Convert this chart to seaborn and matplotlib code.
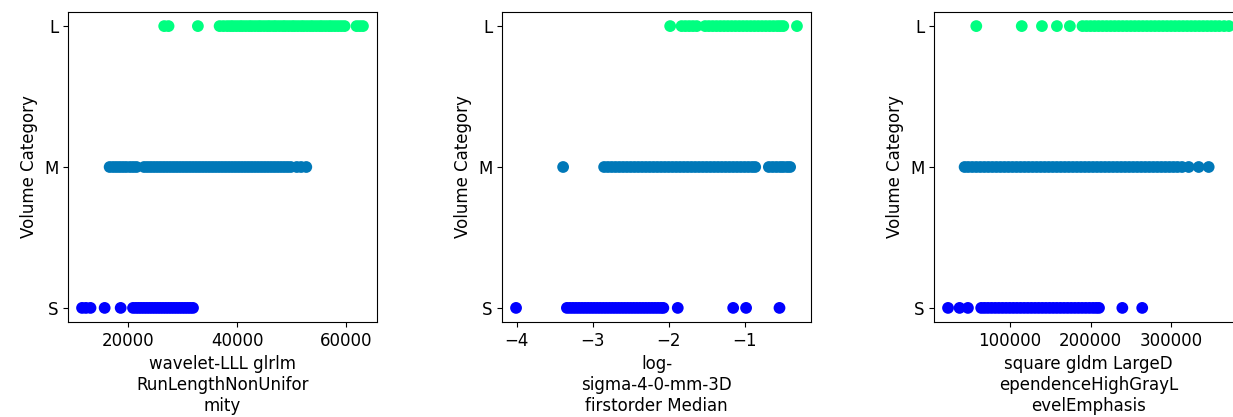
import matplotlib
matplotlib.use("Agg")
import matplotlib.pyplot as plt
import seaborn as sns
import pandas as pd

# ---------------- data ----------------
categories = ["S", "M", "L"]
y_label = "Volume Category"
x_labels = [
    "wavelet-LLL glrlm\nRunLengthNonUnifor\nmity",
    "log-\nsigma-4-0-mm-3D\nfirstorder Median",
    "square gldm LargeD\nependenceHighGrayL\nevelEmphasis",
]
x_ticks = [
    [20000, 40000, 60000],
    [-4, -3, -2, -1],
    [100000, 200000, 300000],
]

# panel 1: wavelet-LLL glrlm RunLengthNonUniformity
p1_S = [11480, 12200, 13040, 15640, 18590, 20860, 21400, 21900, 22400, 22900,
        23400, 23900, 24400, 24900, 25400, 25900, 26400, 26900, 27400, 27900,
        28400, 28900, 29400, 29900, 30400, 30900, 31400, 31900]
p1_M = [16560, 17200, 17800, 18400, 19000, 19600, 20300, 20900, 21500, 22900,
        23500, 24100, 24700, 25300, 25900, 26500, 27100, 27700, 28300, 28900,
        29500, 30100, 30700, 31300, 31900, 32500, 33100, 33700, 34300, 34900,
        35500, 36100, 36700, 37300, 37900, 38500, 39100, 39700, 40300, 40900,
        41500, 42100, 42700, 43300, 43900, 44500, 45100, 45700, 46300, 46900,
        47500, 48100, 48700, 49300, 49900, 51000, 51800, 52750]
p1_L = [26600, 27400, 32800, 36800, 37500, 38200, 38800, 39300, 39900, 40500,
        41000, 41600, 42200, 42700, 43300, 43900, 44400, 45000, 45600, 46100,
        46700, 47200, 47800, 48400, 48900, 49500, 50100, 50600, 51200, 51800,
        52300, 52900, 53500, 54000, 54600, 55200, 55700, 56300, 56900, 57400,
        58000, 58600, 59200, 59800, 62000, 62600, 63180]

# panel 2: log-sigma-4-0-mm-3D firstorder Median
p2_S = [-4.01, -3.34, -3.30, -3.26, -3.22, -3.18, -3.14, -3.10, -3.06, -3.02,
        -2.98, -2.94, -2.90, -2.86, -2.82, -2.78, -2.74, -2.70, -2.66, -2.62,
        -2.58, -2.54, -2.50, -2.46, -2.42, -2.38, -2.34, -2.30, -2.26, -2.22,
        -2.18, -2.14, -2.10, -2.07, -1.88, -1.15, -0.98, -0.54]
p2_M = [-3.39, -2.85, -2.80, -2.75, -2.70, -2.65, -2.60, -2.55, -2.50, -2.45,
        -2.40, -2.35, -2.30, -2.25, -2.20, -2.15, -2.10, -2.05, -2.00, -1.95,
        -1.90, -1.85, -1.80, -1.75, -1.70, -1.65, -1.60, -1.55, -1.50, -1.45,
        -1.40, -1.35, -1.30, -1.25, -1.20, -1.15, -1.10, -1.05, -1.00, -0.95,
        -0.90, -0.86, -0.68, -0.63, -0.58, -0.53, -0.49, -0.44, -0.40]
p2_L = [-1.98, -1.83, -1.78, -1.73, -1.68, -1.63, -1.52, -1.47, -1.42, -1.37,
        -1.32, -1.27, -1.22, -1.17, -1.12, -1.07, -1.02, -0.97, -0.92, -0.87,
        -0.82, -0.77, -0.72, -0.67, -0.62, -0.57, -0.53, -0.49, -0.31]

# panel 3: square gldm LargeDependenceHighGrayLevelEmphasis
p3_S = [22900, 37200, 47600, 64100, 68200, 72500, 77000, 81500, 86000, 90500,
        95000, 99500, 104000, 108500, 113000, 117500, 122000, 126500, 131000,
        135500, 140000, 144500, 149000, 153500, 158000, 162500, 167000, 171500,
        176000, 180500, 185000, 189500, 194000, 198500, 203000, 207000, 210500,
        239500, 264200]
p3_M = [43500, 48000, 53000, 58000, 63000, 68000, 73000, 78000, 83000, 88000,
        93000, 98000, 103000, 108000, 113000, 118000, 123000, 128000, 133000,
        138000, 143000, 148000, 153000, 158000, 163000, 168000, 173000, 178000,
        183000, 188000, 193000, 198000, 203000, 208000, 213000, 218000, 223000,
        228000, 233000, 238000, 243000, 248000, 253000, 258000, 263000, 268000,
        273000, 278000, 283000, 288000, 293000, 298000, 303000, 308000, 313700,
        322000, 334400, 346800]
p3_L = [58000, 114500, 139600, 158200, 174300, 190000, 195000, 200000, 205000,
        210000, 215000, 220000, 225000, 230000, 235000, 240000, 245000, 250000,
        255000, 260000, 265000, 270000, 275000, 280000, 285000, 290000, 295000,
        300000, 305000, 310000, 315000, 320000, 325000, 330000, 335000, 340000,
        345000, 350000, 355000, 360000, 366000, 372000]

palette = {"S": (0.0, 0.0, 1.0), "M": (0.0, 0.47, 0.72), "L": (0.0, 1.0, 0.5)}

panels = [(p1_S, p1_M, p1_L), (p2_S, p2_M, p2_L), (p3_S, p3_M, p3_L)]

# ---------------- plot ----------------
plt.rcParams["font.family"] = ["DejaVu Sans"]
plt.rcParams["font.size"] = 12

fig = plt.figure(figsize=(12.33, 4.17), dpi=100)
lefts_px = [68, 502, 934]
W, H = 1233.0, 417.0
for i, (s_vals, m_vals, l_vals) in enumerate(panels):
    ax = fig.add_axes([lefts_px[i] / W, 95 / H, 309 / W, 310 / H])
    df = pd.DataFrame({
        "x": list(s_vals) + list(m_vals) + list(l_vals),
        "cat": ["S"] * len(s_vals) + ["M"] * len(m_vals) + ["L"] * len(l_vals),
    })
    df["cat"] = pd.Categorical(df["cat"], categories=categories)
    sns.scatterplot(data=df, x="x", y="cat", hue="cat", palette=palette,
                    s=72, linewidth=0, legend=False, ax=ax)
    # S at the bottom, L at the top
    lo, hi = sorted(ax.get_ylim())
    ax.set_ylim(lo, hi)
    ax.set_xticks(x_ticks[i])
    ax.set_xlabel(x_labels[i])
    ax.set_ylabel(y_label)
    for sp in ax.spines.values():
        sp.set_visible(True)

fig.savefig("out.png", dpi=100)
